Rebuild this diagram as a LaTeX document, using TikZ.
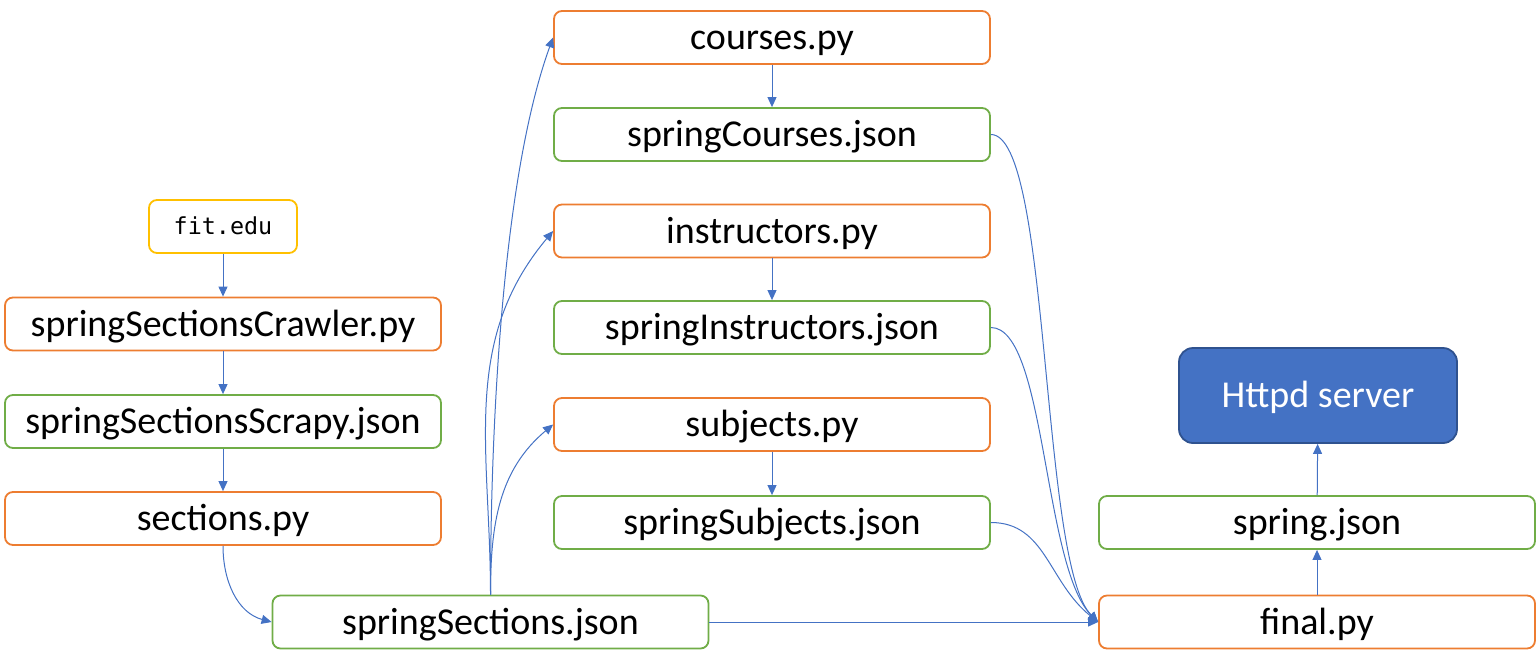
\documentclass[tikz,border=0pt]{standalone}
\usepackage{fontspec}
\setmainfont{Carlito}
\setmonofont{DejaVu Sans Mono}
\usetikzlibrary{arrows.meta,positioning}
\definecolor{pyorange}{HTML}{ED7D31}
\definecolor{jsongreen}{HTML}{70AD47}
\definecolor{siteyellow}{HTML}{FFC000}
\definecolor{flowblue}{HTML}{4472C4}
\definecolor{serverrim}{HTML}{2F528F}

\begin{document}
\begin{tikzpicture}[x=0.5pt, y=0.5pt, >={Triangle[length=5pt, width=4.5pt]},
    box/.style={draw, fill=white, rounded corners=4pt, line width=0.9pt, minimum width=218pt,
      minimum height=26.5pt, inner sep=0pt, font=\fontsize{19}{22}\selectfont,
      text height=15pt, text depth=3pt},
    pybox/.style={box, draw=pyorange},
    jsonbox/.style={box, draw=jsongreen},
    sitebox/.style={box, draw=siteyellow, minimum width=74pt, font=\ttfamily\fontsize{11.7}{14}\selectfont,
      text height=9pt, text depth=1.5pt},
    serverbox/.style={box, draw=serverrim, fill=flowblue, text=white, rounded corners=7pt,
      minimum width=139pt, minimum height=47.5pt},
    flow/.style={->, draw=flowblue, line width=0.5pt}]
  \useasboundingbox (0,0) rectangle (1537,-666);
  % crawler column
  \node[sitebox] (site) at (223,-226.5) {fit.edu};
  \node[pybox] (crawler) at (223,-324) {springSectionsCrawler.py};
  \node[jsonbox] (scrapy) at (223,-421.5) {springSectionsScrapy.json};
  \node[pybox] (sections) at (223,-518.5) {sections.py};
  \node[jsonbox] (sSections) at (490.5,-622) {springSections.json};
  % extractors
  \node[pybox] (courses) at (772,-37.5) {courses.py};
  \node[jsonbox] (sCourses) at (772,-134.5) {springCourses.json};
  \node[pybox] (instructors) at (772,-231) {instructors.py};
  \node[jsonbox] (sInstructors) at (772,-327.5) {springInstructors.json};
  \node[pybox] (subjects) at (772,-424.5) {subjects.py};
  \node[jsonbox] (sSubjects) at (772,-522.5) {springSubjects.json};
  % merge and serve
  \node[pybox] (final) at (1317,-622) {final.py};
  \node[jsonbox] (spring) at (1317,-522.5) {spring.json};
  \node[serverbox] (httpd) at (1318,-395.5) {Httpd server};

  \draw[flow] (site) -- (crawler);
  \draw[flow] (crawler) -- (scrapy);
  \draw[flow] (scrapy) -- (sections);
  \draw[flow] (sections.south) to[out=-90, in=165] (sSections.west);
  \draw[flow] (sSections.north) to[out=90, in=250, looseness=0.7] (courses.west);
  \draw[flow] (sSections.north) to[out=90, in=230] (instructors.west);
  \draw[flow] (sSections.north) to[out=90, in=220] (subjects.west);
  \draw[flow] (courses) -- (sCourses);
  \draw[flow] (instructors) -- (sInstructors);
  \draw[flow] (subjects) -- (sSubjects);
  \draw[flow] (sCourses.east) .. controls +(60,0) and +(-58,58) .. (final.west);
  \draw[flow] (sInstructors.east) .. controls +(55,0) and +(-55,55) .. (final.west);
  \draw[flow] (sSubjects.east) .. controls +(55,0) and +(-50,40) .. (final.west);
  \draw[flow] (sSections.east) -- (final.west);
  \draw[flow] (final) -- (spring);
  \draw[flow] (spring) -- (httpd);
\end{tikzpicture}
\end{document}
